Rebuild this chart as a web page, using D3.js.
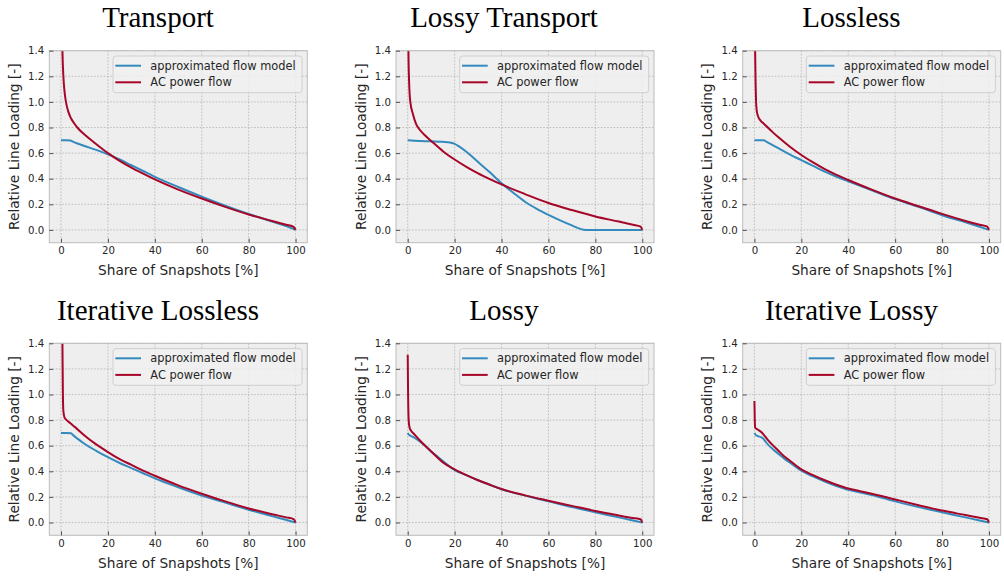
<!DOCTYPE html>
<html><head><meta charset="utf-8">
<script src="https://cdn.jsdelivr.net/npm/d3@7"></script>
<style>body{margin:0;background:#fff}</style>
</head><body><svg id="c" width="1004" height="576"></svg>
<script>
const titles = ["Transport","Lossy Transport","Lossless","Iterative Lossless","Lossy","Iterative Lossy"];
const seriesNames = ["approximated flow model","AC power flow"];
const seriesColors = ["#348ABD","#A60628"];
const xTicks = [0,20,40,60,80,100];
const yTicks = [0,0.2,0.4,0.6,0.8,1.0,1.2,1.4];
const xLabel = "Share of Snapshots [%]";
const yLabel = "Relative Line Loading [-]";

const transportApprox = [[0,0.70],[2,0.70],[4,0.698],[5,0.69],[7,0.675],[10,0.655],[15,0.625],[20,0.59],[25,0.55],[30,0.505],[35,0.46],[40,0.415],[50,0.335],[60,0.26],[70,0.19],[80,0.125],[90,0.065],[95,0.035],[100,0.0]];
const transportAC = [[0,2.2],[0.3,1.75],[0.6,1.4],[1.0,1.2],[1.5,1.08],[2.1,1.0],[3,0.93],[4.3,0.87],[5.5,0.835],[7.4,0.79],[10,0.745],[14,0.685],[20,0.6],[25,0.54],[30,0.487],[35,0.44],[40,0.395],[50,0.315],[60,0.245],[70,0.18],[80,0.12],[90,0.07],[96,0.04],[99.3,0.022],[100,0.0]];

const lossyTransportApprox = [[0,0.70],[5,0.695],[10,0.692],[15,0.688],[18,0.683],[20,0.672],[22,0.65],[25,0.61],[30,0.53],[35,0.45],[40,0.365],[45,0.29],[50,0.22],[55,0.165],[60,0.118],[65,0.075],[70,0.035],[73,0.012],[75,0.002],[77,0],[100,0]];
const lossyTransportAC = [[0,2.5],[0.2,1.6],[0.3,1.4],[0.6,1.15],[1.1,1.0],[2.3,0.9],[3.5,0.83],[4.8,0.79],[7,0.745],[10,0.695],[15,0.615],[20,0.55],[25,0.493],[30,0.442],[35,0.397],[40,0.355],[50,0.28],[60,0.21],[70,0.155],[80,0.105],[90,0.065],[96,0.04],[99.3,0.025],[100,0.0]];

const losslessApprox = [[0,0.70],[2,0.70],[4,0.70],[5,0.69],[7,0.67],[10,0.64],[15,0.59],[20,0.545],[25,0.50],[30,0.455],[35,0.415],[40,0.38],[50,0.31],[60,0.24],[70,0.18],[80,0.115],[90,0.06],[95,0.03],[100,0]];
const losslessAC = [[0,2.5],[0.2,1.6],[0.3,1.4],[0.5,1.15],[0.7,1.0],[1.0,0.93],[1.5,0.89],[2.8,0.85],[4,0.83],[5.7,0.80],[8,0.76],[10,0.727],[15,0.652],[20,0.585],[25,0.527],[30,0.475],[35,0.43],[40,0.39],[50,0.315],[60,0.245],[70,0.185],[80,0.125],[90,0.07],[96,0.04],[99.3,0.025],[100,0]];

const iterLosslessApprox = [[0,0.70],[2,0.70],[4.3,0.698],[5,0.685],[7,0.655],[10,0.615],[15,0.56],[20,0.51],[25,0.465],[30,0.425],[35,0.385],[40,0.345],[50,0.275],[60,0.21],[70,0.155],[80,0.10],[90,0.05],[95,0.025],[100,0]];
const iterLosslessAC = [[0,2.5],[0.3,1.8],[0.6,1.4],[0.8,1.0],[1.0,0.87],[1.5,0.82],[2.4,0.80],[4,0.775],[6,0.745],[10,0.68],[15,0.61],[20,0.55],[25,0.495],[30,0.45],[35,0.405],[40,0.365],[50,0.29],[60,0.225],[70,0.165],[80,0.11],[90,0.065],[96,0.04],[99.3,0.025],[100,0]];

const lossyApprox = [[0,0.70],[0.3,0.69],[1,0.68],[3,0.66],[5,0.635],[8,0.59],[10,0.555],[13,0.51],[15,0.48],[20,0.41],[25,0.37],[30,0.33],[35,0.295],[40,0.26],[50,0.21],[60,0.165],[70,0.12],[80,0.08],[90,0.04],[95,0.02],[100,0]];
const lossyAC = [[0,1.31],[0.1,1.1],[0.2,0.95],[0.4,0.80],[0.8,0.74],[1.5,0.715],[2.5,0.695],[5,0.645],[8,0.59],[10,0.555],[15,0.47],[20,0.415],[25,0.37],[30,0.33],[35,0.295],[40,0.262],[50,0.212],[60,0.17],[70,0.13],[80,0.09],[90,0.055],[96,0.035],[99.3,0.025],[100,0]];

const iterLossyApprox = [[0,0.70],[0.5,0.685],[1.5,0.675],[3,0.665],[4,0.65],[5,0.625],[8,0.57],[10,0.54],[13,0.495],[15,0.47],[20,0.405],[25,0.36],[30,0.32],[35,0.285],[40,0.255],[45,0.235],[50,0.215],[60,0.165],[70,0.12],[80,0.08],[90,0.04],[95,0.02],[100,0]];
const iterLossyAC = [[0,0.95],[0.15,0.80],[0.3,0.74],[1.5,0.725],[3,0.705],[4,0.685],[5.5,0.65],[7.5,0.61],[10,0.565],[12.5,0.52],[15,0.485],[20,0.415],[25,0.37],[30,0.33],[35,0.295],[40,0.265],[45,0.245],[50,0.225],[60,0.18],[70,0.135],[80,0.093],[90,0.058],[96,0.037],[99.3,0.025],[100,0]];

const panelData = [
  [transportApprox, transportAC],
  [lossyTransportApprox, lossyTransportAC],
  [losslessApprox, losslessAC],
  [iterLosslessApprox, iterLosslessAC],
  [lossyApprox, lossyAC],
  [iterLossyApprox, iterLossyAC]
];

const svg = d3.select("#c");
const colLeft = [49.3, 396, 742.7], rowTop = [50.7, 343.3];
const titleX = [158, 504, 851.5];
const W = 258, H = 192;
const sans = "'DejaVu Sans', sans-serif";

titles.forEach((t, i) => {
  const r = Math.floor(i / 3), c = i % 3;
  const g = svg.append("g").attr("transform", `translate(${colLeft[c]},${rowTop[r]})`);
  const x = d3.scaleLinear().domain([-5, 105]).range([0, W]);
  const y = d3.scaleLinear().domain([-0.1, 1.4]).range([H, 0]);

  svg.append("text").attr("x", titleX[c]).attr("y", rowTop[r] - 23.4)
    .attr("text-anchor", "middle").attr("font-family", "'Liberation Serif', serif")
    .attr("font-size", 29).attr("fill", "#000").text(t);

  g.append("rect").attr("width", W).attr("height", H).attr("fill", "#eeeeee");

  g.append("g").selectAll("line").data(xTicks).join("line")
    .attr("x1", d => x(d)).attr("x2", d => x(d)).attr("y1", 0).attr("y2", H)
    .attr("stroke", "#b2b2b2").attr("stroke-width", 0.8).attr("stroke-dasharray", "1.6,1.6");
  g.append("g").selectAll("line").data(yTicks).join("line")
    .attr("y1", d => y(d)).attr("y2", d => y(d)).attr("x1", 0).attr("x2", W)
    .attr("stroke", "#b2b2b2").attr("stroke-width", 0.8).attr("stroke-dasharray", "1.6,1.6");

  const cid = "clip" + i;
  g.append("clipPath").attr("id", cid).append("rect").attr("width", W).attr("height", H);
  const line = d3.line().x(d => x(d[0])).y(d => y(d[1])).curve(d3.curveMonotoneX);
  const lg = g.append("g").attr("clip-path", `url(#${cid})`);
  panelData[i].forEach((s, k) => {
    lg.append("path").datum(s).attr("d", line).attr("fill", "none")
      .attr("stroke", seriesColors[k]).attr("stroke-width", 2)
      .attr("stroke-linejoin", "round").attr("stroke-linecap", "butt");
  });

  g.append("rect").attr("width", W).attr("height", H).attr("fill", "none")
    .attr("stroke", "#bcbcbc").attr("stroke-width", 1);

  const xa = g.append("g").attr("transform", `translate(0,${H})`)
    .call(d3.axisBottom(x).tickValues(xTicks).tickSizeInner(-4).tickSizeOuter(0).tickPadding(4.5).tickFormat(d3.format("d")));
  const ya = g.append("g")
    .call(d3.axisLeft(y).tickValues(yTicks).tickSizeInner(-4).tickSizeOuter(0).tickPadding(5).tickFormat(d3.format(".1f")));
  [xa, ya].forEach(a => {
    a.select(".domain").remove();
    a.selectAll("line").attr("stroke", "#444").attr("stroke-width", 0.9);
    a.selectAll("text").attr("font-family", sans).attr("font-size", 10.2).attr("fill", "#262626");
  });

  g.append("text").attr("x", W / 2).attr("y", H + 32.5).attr("text-anchor", "middle")
    .attr("font-family", sans).attr("font-size", 13.7).attr("fill", "#262626").text(xLabel);
  g.append("text").attr("transform", `translate(-30.3,${H / 2}) rotate(-90)`).attr("text-anchor", "middle")
    .attr("font-family", sans).attr("font-size", 13.7).attr("fill", "#262626").text(yLabel);

  const LW = 189, LH = 36.7;
  const leg = g.append("g").attr("transform", `translate(${W - 5.3 - LW},5.3)`);
  leg.append("rect").attr("width", LW).attr("height", LH).attr("rx", 3)
    .attr("fill", "#f0f0f0").attr("fill-opacity", 0.85).attr("stroke", "#cccccc").attr("stroke-width", 0.9);
  seriesNames.forEach((n, k) => {
    const yy = 9.7 + k * 16.6;
    leg.append("line").attr("x1", 2.3).attr("x2", 28).attr("y1", yy).attr("y2", yy)
      .attr("stroke", seriesColors[k]).attr("stroke-width", 2);
    leg.append("text").attr("x", 37.3).attr("y", yy).attr("dy", "0.36em")
      .attr("font-family", sans).attr("font-size", 11.4).attr("fill", "#262626").text(n);
  });
});
</script>
</body></html>
